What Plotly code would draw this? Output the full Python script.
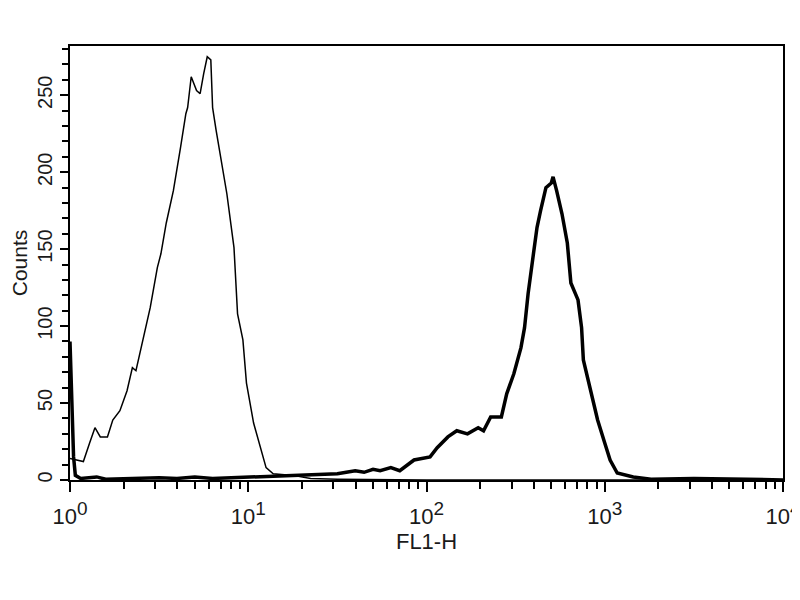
import plotly.graph_objects as go

# FL1-H positions in decades (log10) and counts
control_decades = [0.00, 0.037, 0.075, 0.11, 0.14, 0.17, 0.21, 0.24, 0.28, 0.32, 0.35, 0.37, 0.41, 0.45,
                   0.49, 0.51, 0.54, 0.58, 0.62, 0.65, 0.66, 0.68, 0.71, 0.73, 0.75, 0.77, 0.79, 0.80,
                   0.82, 0.86, 0.88, 0.92, 0.94, 0.97, 0.99, 1.03, 1.07, 1.10, 1.14, 1.25, 1.35, 1.5, 2.0, 3.0, 4.0]
control_counts = [14, 13, 12, 24, 34, 28, 28, 39, 45, 58, 73, 71, 91, 112,
                  138, 147, 167, 188, 216, 238, 242, 262, 253, 251, 264, 275, 273, 242,
                  227, 199, 186, 151, 108, 91, 63, 37, 21, 8, 4, 3, 1, 0.5, 0, 0, 0]

stained_decades = [0.00, 0.01, 0.02, 0.03, 0.06, 0.15, 0.20, 0.35, 0.50, 0.60, 0.70, 0.80, 0.90, 1.00,
                   1.10, 1.20, 1.30, 1.40, 1.50, 1.55, 1.60, 1.65, 1.70, 1.74, 1.80, 1.85, 1.93, 2.02,
                   2.06, 2.12, 2.17, 2.23, 2.29, 2.32, 2.36, 2.42, 2.45, 2.49, 2.53, 2.55, 2.57, 2.60,
                   2.62, 2.64, 2.67, 2.70, 2.71, 2.73, 2.76, 2.79, 2.81, 2.85, 2.87, 2.88, 2.92, 2.96,
                   3.00, 3.03, 3.07, 3.16, 3.26, 3.5, 3.8, 4.0]
stained_counts = [90, 55, 15, 3, 1, 2, 0.5, 1, 1.5, 1, 2, 1, 1.5, 2,
                  2, 2.5, 3, 3.5, 4, 5, 6, 5, 7, 6, 8, 6, 13, 15,
                  21, 28, 32, 30, 34, 32, 41, 41, 56, 69, 86, 99, 121, 147,
                  164, 175, 190, 193, 197, 188, 173, 154, 128, 117, 99, 78, 58, 39,
                  24, 13, 4.5, 2, 0.5, 1, 0.5, 0]

x_tick_vals = [1, 10, 100, 1000, 10000]
x_tick_exponents = ["0", "1", "2", "3", "4"]
y_tick_vals = [0, 50, 100, 150, 200, 250]

x_tick_text = ["10<sup><span style='font-size:19px'>%s</span></sup>" % e for e in x_tick_exponents]
x_minor = [m * 10 ** d for d in range(4) for m in range(2, 10)]
y_minor = [v for v in range(0, 290, 10) if v % 50]

fig = go.Figure()
fig.add_trace(go.Scatter(x=[10 ** d for d in control_decades], y=control_counts, mode="lines",
                         line=dict(color="black", width=1.5), showlegend=False))
fig.add_trace(go.Scatter(x=[10 ** d for d in stained_decades], y=stained_counts, mode="lines",
                         line=dict(color="black", width=3.5), showlegend=False))

regular = "Liberation Sans, Arial, sans-serif"
fig.update_layout(
    width=800, height=600,
    margin=dict(l=62, r=25, t=38, b=128, autoexpand=False),
    paper_bgcolor="white", plot_bgcolor="white",
    font=dict(family=regular, size=20, color="#1a1a1a"),
)
fig.update_xaxes(type="log", range=[0, 4], tickvals=x_tick_vals, ticktext=x_tick_text,
                 ticks="outside", ticklen=10, tickwidth=2, tickcolor="black",
                 ticklabelstandoff=6,
                 showline=True, linecolor="black", linewidth=2, mirror=True,
                 showgrid=False, zeroline=False, automargin=False,
                 minor=dict(tickvals=x_minor, ticks="outside", ticklen=7, tickwidth=2,
                            tickcolor="black", showgrid=False),
                 title=dict(text="FL1-H", standoff=3, font=dict(family=regular, size=22)),
                 tickfont=dict(family=regular, size=22))
fig.update_yaxes(range=[0, 282], tickvals=y_tick_vals, tickangle=-90,
                 ticks="outside", ticklen=8, tickwidth=2, tickcolor="black",
                 showline=True, linecolor="black", linewidth=2, mirror=True,
                 showgrid=False, zeroline=False, automargin=False,
                 minor=dict(tickvals=y_minor, ticks="outside", ticklen=6, tickwidth=2,
                            tickcolor="black", showgrid=False),
                 title=dict(text="Counts", standoff=2, font=dict(family=regular, size=21)),
                 tickfont=dict(family=regular, size=20))

fig.write_html("out.html")
